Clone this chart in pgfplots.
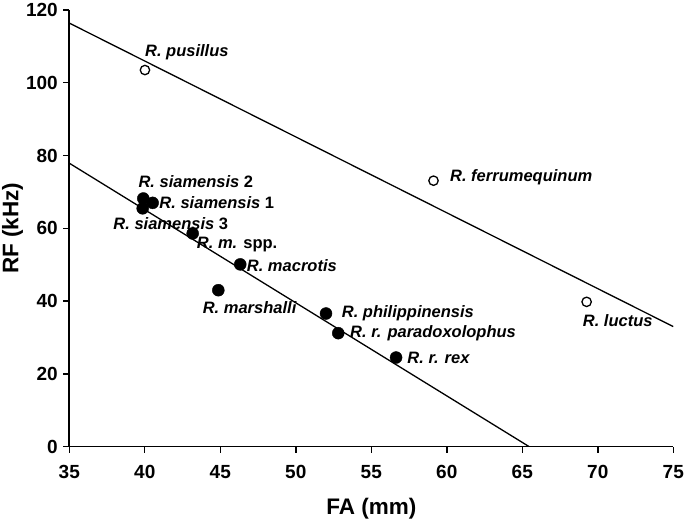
\documentclass[border=0pt]{standalone}
\usepackage{pgfplots}
\pgfplotsset{compat=1.18}
\usetikzlibrary{calc}
\usepackage{fontspec}
\setmainfont{Liberation Sans}
\begin{document}
\begin{tikzpicture}
\begin{axis}[
  name=ax,
  scale only axis, width=604pt, height=436.7pt,
  xmin=35, xmax=75, ymin=0, ymax=120,
  axis x line*=bottom, axis y line*=left,
  axis line style={line width=1.6pt},
  xtick={35,40,...,75}, ytick={0,20,...,120},
  tick align=outside, major tick length=6pt,
  tick style={line width=1.4pt, black},
  /pgf/number format/assume math mode=true,
  tick label style={font=\fontsize{19}{21}\selectfont\bfseries},
  xticklabel style={yshift=-9pt},
  yticklabel style={xshift=-2pt},
  xlabel={FA (mm)}, ylabel={RF (kHz)},
  label style={font=\fontsize{22.5}{25}\selectfont\bfseries, inner sep=0pt},
  xlabel style={at={($(rel axis cs:0.5,0)+(0pt,-67.5pt)$)}, anchor=base},
  ylabel style={at={($(rel axis cs:0,0.5)+(-51pt,0pt)$)}, anchor=base},
  clip=true,
]
\addplot[black, line width=1.3pt] coordinates {(35,116.4) (75,33.0)};
\addplot[black, line width=1.3pt] coordinates {(35,77.9) (65.46,0)};
% open circles
\addplot[only marks, mark=o, mark size=4.7pt, mark options={line width=1.3pt, black, fill=white}] coordinates {
(40.01,103.5) (59.12,73.1) (69.26,39.8)};
% filled circles
\addplot[only marks, mark=*, mark size=6pt, mark options={black, fill=black}] coordinates {
(39.90,68.2) (40.52,67.0) (39.86,65.5) (43.17,58.6) (46.32,50.1) (44.87,43.0)
(52.0,36.6) (52.81,31.2) (56.64,24.5)};
\begin{scope}[every node/.style={anchor=base west, inner sep=0pt, font=\fontsize{16.5}{18}\selectfont\bfseries}]
\node at (axis cs:40.01,107.1) {\textit{R. pusillus}};
\node at (axis cs:39.57,71.3) {\textit{R. siamensis} 2};
\node at (axis cs:40.96,65.5) {\textit{R. siamensis} 1};
\node at (axis cs:37.91,59.8) {\textit{R. siamensis} 3};
\node at (axis cs:43.44,54.5) {\textit{R. m.} spp.};
\node at (axis cs:46.75,48.1) {\textit{R. macrotis}};
\node at (axis cs:43.83,36.5) {\textit{R. marshalli}};
\node at (axis cs:53.04,35.5) {\textit{R. philippinensis}};
\node at (axis cs:53.59,30.1) {\textit{R. r. paradoxolophus}};
\node at (axis cs:57.38,22.9) {\textit{R. r. rex}};
\node at (axis cs:60.21,72.8) {\textit{R. ferrumequinum}};
\node at (axis cs:69.0,33.0) {\textit{R. luctus}};
\end{scope}
\end{axis}
\pgfresetboundingbox
\path[use as bounding box] ([shift={(-69.3pt,-74.3pt)}]ax.south west) rectangle ([shift={(11.7pt,10pt)}]ax.north east);
\end{tikzpicture}
\end{document}
